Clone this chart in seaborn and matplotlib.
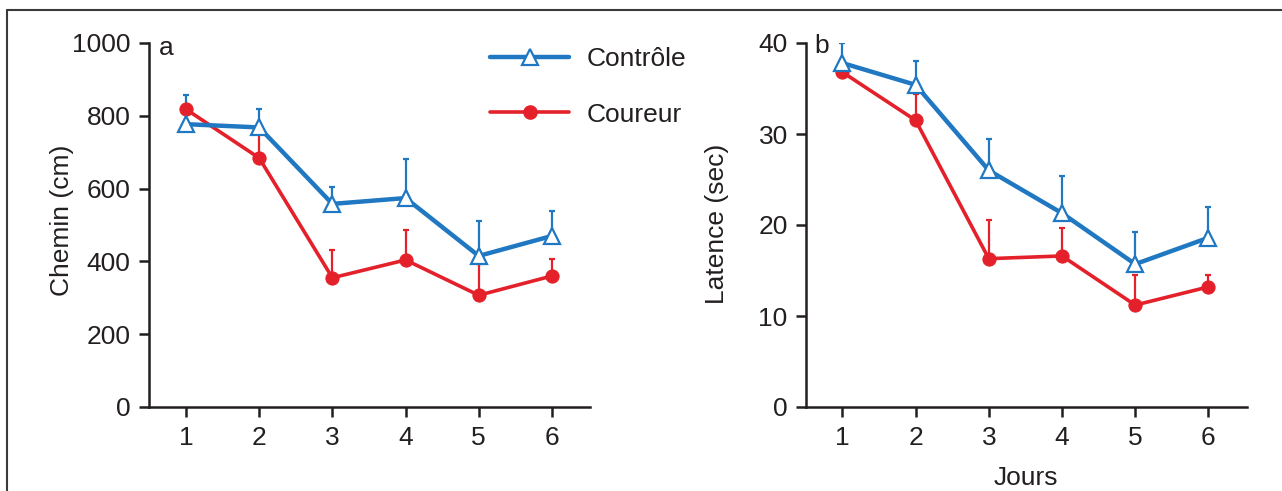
"""
Chemin et latence par jour : Contrôle vs Coureur (panneaux a et b)
"""

import numpy as np
import pandas as pd
import matplotlib
matplotlib.use('Agg')
import matplotlib.pyplot as plt
import seaborn as sns
from matplotlib.lines import Line2D

# données
jours = [1, 2, 3, 4, 5, 6]

chemin_controle = [777, 768, 558, 574, 415, 470]
chemin_controle_err = [81, 52, 46, 106, 97, 69]
chemin_coureur = [818, 684, 355, 404, 307, 360]
chemin_coureur_err = [0, 68, 76, 82, 85, 46]

latence_controle = [37.8, 35.4, 26.0, 21.3, 15.7, 18.6]
latence_controle_err = [2.2, 2.6, 3.5, 4.1, 3.5, 3.4]
latence_coureur = [36.8, 31.5, 16.3, 16.6, 11.2, 13.2]
latence_coureur_err = [0, 2.9, 4.3, 3.1, 3.3, 1.3]

couleurs = {'Contrôle': '#1f78c1', 'Coureur': '#e4212a'}
encre = '#231f20'
fs = 19

sns.set_style('ticks')
plt.rcParams['font.family'] = ['Liberation Sans', 'DejaVu Sans']

W, H = 1282, 491
fig = plt.figure(figsize=(W / 100, H / 100), dpi=100)

# cadre (haut et gauche seulement)
fig.add_artist(Line2D([7 / W, 7 / W], [0, 1 - 10 / H], color='#3a3a3a', lw=1.5))
fig.add_artist(Line2D([7 / W, 1], [1 - 10 / H, 1 - 10 / H], color='#3a3a3a', lw=1.5))

ax_a = fig.add_axes([148.6 / W, 84 / H, 441.4 / W, 364 / H])
ax_b = fig.add_axes([805.8 / W, 84 / H, 441.1 / W, 364 / H])


def panel(ax, controle, controle_err, coureur, coureur_err, ylim, yticks, xlim):
    df = pd.DataFrame({
        'Jour': jours * 2,
        'Valeur': coureur + controle,
        'Groupe': ['Coureur'] * 6 + ['Contrôle'] * 6,
    })
    # barres d'erreur (vers le haut seulement)
    ax.errorbar(jours, coureur, yerr=[np.zeros(6), coureur_err], fmt='none',
                ecolor=couleurs['Coureur'], elinewidth=1.6, capsize=2, capthick=1.6, zorder=2)
    ax.errorbar(jours, controle, yerr=[np.zeros(6), controle_err], fmt='none',
                ecolor=couleurs['Contrôle'], elinewidth=1.6, capsize=2, capthick=1.6, zorder=2)
    sns.lineplot(data=df[df['Groupe'] == 'Coureur'], x='Jour', y='Valeur', ax=ax,
                 color=couleurs['Coureur'], lw=2.6, marker='o', ms=9.5,
                 mec=couleurs['Coureur'], mfc=couleurs['Coureur'], zorder=3)
    sns.lineplot(data=df[df['Groupe'] == 'Contrôle'], x='Jour', y='Valeur', ax=ax,
                 color=couleurs['Contrôle'], lw=3.2, marker='^', ms=11.5,
                 mec=couleurs['Contrôle'], mfc='white', mew=1.6, zorder=4)
    ax.set_xlim(*xlim)
    ax.set_ylim(*ylim)
    ax.set_xticks(jours)
    ax.set_yticks(yticks)
    ax.set_xlabel('')
    ax.set_ylabel('')
    sns.despine(ax=ax)
    for s in ['left', 'bottom']:
        ax.spines[s].set_linewidth(1.8)
        ax.spines[s].set_color(encre)
    ax.tick_params(axis='both', length=7, width=1.8, color=encre,
                   labelsize=fs, labelcolor=encre)
    ax.tick_params(axis='x', pad=7)
    ax.tick_params(axis='y', pad=6)
    ax.patch.set_alpha(0)


panel(ax_a, chemin_controle, chemin_controle_err, chemin_coureur, chemin_coureur_err,
      (0, 1000), [0, 200, 400, 600, 800, 1000], (0.489, 6.52))
panel(ax_b, latence_controle, latence_controle_err, latence_coureur, latence_coureur_err,
      (0, 40), [0, 10, 20, 30, 40], (0.5, 6.526))

ax_a.set_ylabel('Chemin (cm)', fontsize=fs, color=encre)
ax_a.yaxis.set_label_coords(74 / W, 1 - 220 / H, transform=fig.transFigure)
ax_b.set_ylabel('Latence (sec)', fontsize=fs, color=encre)
ax_b.yaxis.set_label_coords(729 / W, 1 - 224 / H, transform=fig.transFigure)
ax_b.set_xlabel('Jours', fontsize=fs, color=encre, labelpad=11)

fig.text(159 / W, 1 - 48 / H, 'a', fontsize=fs, color=encre, va='center')
fig.text(814 / W, 1 - 46 / H, 'b', fontsize=fs, color=encre, va='center')

handles = [
    Line2D([], [], color=couleurs['Contrôle'], lw=3.2, marker='^', ms=11.5,
           mec=couleurs['Contrôle'], mfc='white', mew=1.6),
    Line2D([], [], color=couleurs['Coureur'], lw=2.6, marker='o', ms=9.5,
           mec=couleurs['Coureur'], mfc=couleurs['Coureur']),
]
fig.legend(handles, ['Contrôle', 'Coureur'], loc='upper left',
           bbox_to_anchor=(490 / W, 1 - 47 / H), frameon=False, fontsize=fs,
           handlelength=3.0, handletextpad=0.68, labelspacing=1.2,
           borderpad=0, borderaxespad=0, labelcolor=encre)

fig.savefig('out.png', dpi=100)
